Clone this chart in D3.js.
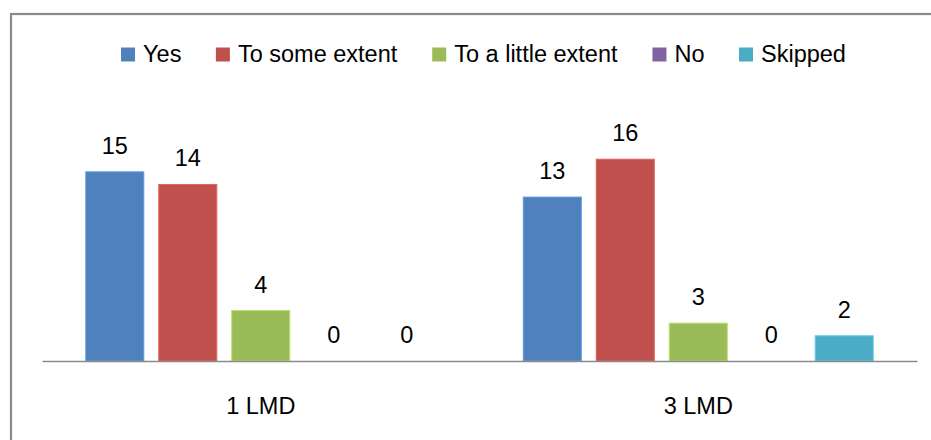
<!DOCTYPE html>
<html>
<head>
<meta charset="utf-8">
<script src="https://cdn.jsdelivr.net/npm/d3@7"></script>
<style>
  html, body { margin: 0; padding: 0; background: #fff; }
  svg { display: block; }
  text { font-family: "Liberation Sans", Arial, sans-serif; fill: #000; }
</style>
</head>
<body>
<svg id="chart" width="931" height="440"></svg>
<script>
// Groups along the x axis
const categories = ["1 LMD", "3 LMD"];
// Response series, in legend order
const seriesNames = ["Yes", "To some extent", "To a little extent", "No", "Skipped"];
const seriesColors = ["#4F81BD", "#C0504D", "#9BBB59", "#8064A2", "#4BACC6"];
// Counts per series for each group
const yesValues = [15, 13];
const someExtentValues = [14, 16];
const littleExtentValues = [4, 3];
const noValues = [0, 0];
const skippedValues = [0, 2];

const seriesValues = [yesValues, someExtentValues, littleExtentValues, noValues, skippedValues];

const svg = d3.select("#chart");
const FONT = 23.5;

// Outer chart frame
svg.append("rect")
  .attr("x", 11).attr("y", 14)
  .attr("width", 940).attr("height", 460)
  .attr("fill", "#fff")
  .attr("stroke", "#898989")
  .attr("stroke-width", 2.2);

const plot = { left: 42, right: 917, baseline: 361, top: 134 };

const x0 = d3.scaleBand()
  .domain(categories)
  .range([plot.left, plot.right])
  .padding(0);

const x1 = d3.scaleBand()
  .domain(seriesNames)
  .range([0, x0.bandwidth()])
  .paddingInner(0.205)
  .paddingOuter(0.6);

const y = d3.scaleLinear()
  .domain([0, 18])
  .range([plot.baseline, plot.top]);

// Bars with value labels
const groups = svg.append("g").selectAll("g")
  .data(categories)
  .join("g")
  .attr("transform", d => `translate(${x0(d)},0)`);

groups.each(function (cat, ci) {
  const g = d3.select(this);
  seriesNames.forEach((name, si) => {
    const v = seriesValues[si][ci];
    const col = d3.color(seriesColors[si]);
    if (v > 0) {
      g.append("rect")
        .attr("x", x1(name))
        .attr("y", y(v))
        .attr("width", x1.bandwidth())
        .attr("height", y(0) - y(v))
        .attr("fill", seriesColors[si])
        .attr("stroke", col.brighter(0.5))
        .attr("stroke-width", 1);
    }
    g.append("text")
      .attr("x", x1(name) + x1.bandwidth() / 2)
      .attr("y", y(v) - 18)
      .attr("text-anchor", "middle")
      .attr("font-size", FONT)
      .text(v);
  });
});

// Category axis
const xAxis = svg.append("g")
  .attr("transform", `translate(0,${plot.baseline})`)
  .call(d3.axisBottom(x0).tickSize(0).tickPadding(0));
xAxis.select(".domain")
  .attr("stroke", "#8a8a8a")
  .attr("stroke-width", 1.6);
xAxis.selectAll(".tick text")
  .attr("y", 53)
  .attr("dy", 0)
  .attr("font-size", FONT)
  .attr("font-family", "Liberation Sans, Arial, sans-serif")
  .attr("fill", "#000");

// Legend, centred above the plot
const legend = svg.append("g");
const items = legend.selectAll("g")
  .data(seriesNames)
  .join("g");
items.append("rect")
  .attr("x", 0).attr("y", -14)
  .attr("width", 14).attr("height", 14)
  .attr("fill", (d, i) => seriesColors[i]);
items.append("text")
  .attr("x", 22).attr("y", 0)
  .attr("font-size", FONT)
  .text(d => d);

let cursor = 0;
const gapBetween = 34.5;
items.each(function () {
  const w = this.getBBox().width;
  d3.select(this).attr("transform", `translate(${cursor},0)`);
  cursor += w + gapBetween;
});
const legendWidth = cursor - gapBetween;
legend.attr("transform", `translate(${483.5 - legendWidth / 2},61.5)`);
</script>
</body>
</html>
